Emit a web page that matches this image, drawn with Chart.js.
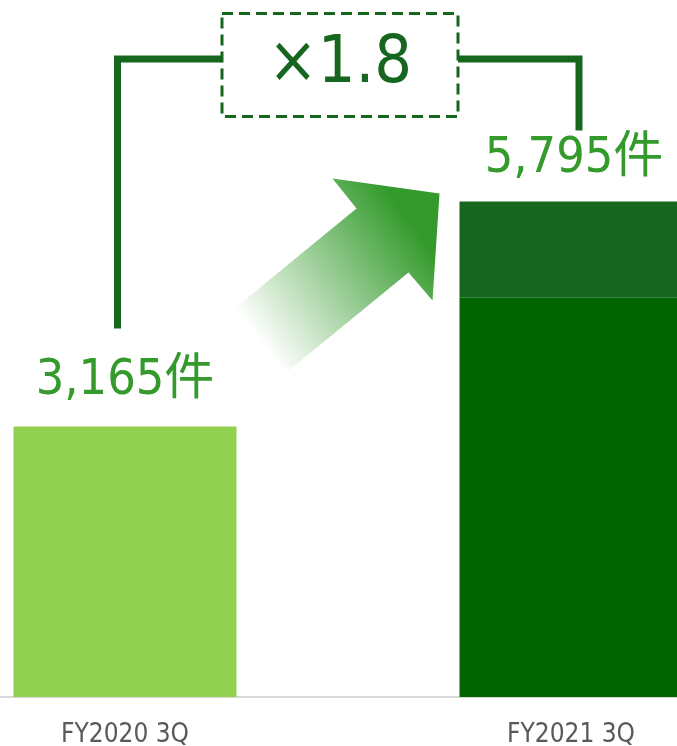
<!DOCTYPE html>
<html lang="ja">
<head>
    <meta charset="UTF-8">
    <title>FY2021 3Q</title>
    <script src="https://cdn.jsdelivr.net/npm/chart.js"></script>
    <style>
        html, body {
            margin: 0;
            padding: 0;
            background: #ffffff;
        }
        .frame {
            position: relative;
            width: 677px;
            height: 746px;
            overflow: hidden;
        }
        .chart-box {
            position: absolute;
            left: -98px;
            top: 0;
            width: 892px;
            height: 746px;
        }
    </style>
</head>
<body>
    <div class="frame">
        <div class="chart-box">
            <canvas id="growthChart"></canvas>
        </div>
    </div>

    <script>
        const categories = ['FY2020 3Q', 'FY2021 3Q'];
        const baseValues = [3165, 4670];
        const upperValues = [null, 1125];
        const totalLabels = ['3,165件', '5,795件'];
        const ratioLabel = '×1.8';

        const FONT = "'DejaVu Sans Condensed', 'DejaVu Sans', 'Noto Sans CJK JP', sans-serif";
        const labelGreen = '#339a2b';
        const darkGreen = '#17661f';

        // value labels, bracket, ratio box and the arrow
        const decorations = {
            id: 'decorations',
            afterDatasetsDraw(chart) {
                const ctx = chart.ctx;
                const base = chart.getDatasetMeta(0).data;
                const upper = chart.getDatasetMeta(1).data;
                const top0 = base[0].y;
                const top1 = upper[1].y;
                const x0 = base[0].x;
                const x1 = base[1].x;
                const left1 = x1 - base[1].width / 2;

                ctx.save();

                // arrow with fading tail
                const ax = left1, ay = top1;
                const pts = [[-224, 106], [-103, 7], [-127, -23], [-20, -8], [-27, 99], [-51, 71], [-172, 170]];
                const grad = ctx.createLinearGradient(ax - 200, ay + 140, ax - 45, ay + 25);
                grad.addColorStop(0, 'rgba(51,154,43,0)');
                grad.addColorStop(1, 'rgba(51,154,43,1)');
                ctx.beginPath();
                pts.forEach((p, i) => {
                    if (i === 0) ctx.moveTo(ax + p[0], ay + p[1]);
                    else ctx.lineTo(ax + p[0], ay + p[1]);
                });
                ctx.closePath();
                ctx.fillStyle = grad;
                ctx.fill();

                // value labels
                ctx.fillStyle = labelGreen;
                ctx.font = '50px ' + FONT;
                ctx.textAlign = 'center';
                ctx.textBaseline = 'middle';
                ctx.fillText(totalLabels[0], x0, top0 - 45);
                ctx.fillText(totalLabels[1], x1 + 3, top1 - 43);

                // bracket
                const lx = x0 - 7.5;
                const rx = x1 + 8;
                const by = chart.chartArea.top + 46;
                const boxL = 222 + 98, boxR = 458 + 98;
                ctx.strokeStyle = darkGreen;
                ctx.lineWidth = 7;
                ctx.lineCap = 'butt';
                ctx.lineJoin = 'miter';
                ctx.beginPath();
                ctx.moveTo(lx, top0 - 98);
                ctx.lineTo(lx, by);
                ctx.lineTo(boxL, by);
                ctx.stroke();
                ctx.beginPath();
                ctx.moveTo(boxR, by);
                ctx.lineTo(rx, by);
                ctx.lineTo(rx, top1 - 71);
                ctx.stroke();

                // dashed ratio box
                ctx.fillStyle = '#ffffff';
                ctx.fillRect(boxL, 13, boxR - boxL, 104);
                ctx.setLineDash([11, 6]);
                ctx.lineWidth = 3;
                ctx.strokeRect(boxL, 13.5, boxR - boxL, 103);
                ctx.setLineDash([]);
                ctx.fillStyle = darkGreen;
                ctx.font = '66px ' + FONT;
                ctx.fillText(ratioLabel, (boxL + boxR) / 2, 65);

                ctx.restore();
            }
        };

        const ctx = document.getElementById('growthChart').getContext('2d');
        new Chart(ctx, {
            type: 'bar',
            data: {
                labels: categories,
                datasets: [{
                    data: baseValues,
                    backgroundColor: ['#92d050', '#006400'],
                    borderWidth: 0,
                    categoryPercentage: 0.5,
                    barPercentage: 1
                }, {
                    data: upperValues,
                    backgroundColor: darkGreen,
                    borderWidth: 0,
                    categoryPercentage: 0.5,
                    barPercentage: 1
                }]
            },
            options: {
                responsive: true,
                maintainAspectRatio: false,
                animation: false,
                layout: { padding: { top: 13, left: 0, right: 0, bottom: 0 } },
                plugins: {
                    legend: { display: false },
                    tooltip: { enabled: false }
                },
                scales: {
                    x: {
                        stacked: true,
                        grid: { display: false, drawTicks: false },
                        border: { display: true, color: '#d9d9d9', width: 2 },
                        ticks: {
                            color: '#595959',
                            padding: 23,
                            font: { family: FONT, size: 26 }
                        },
                        afterFit(scale) { scale.height = 49; }
                    },
                    y: {
                        stacked: true,
                        display: false,
                        min: 0,
                        max: 8000
                    }
                }
            },
            plugins: [decorations]
        });
    </script>
</body>
</html>
